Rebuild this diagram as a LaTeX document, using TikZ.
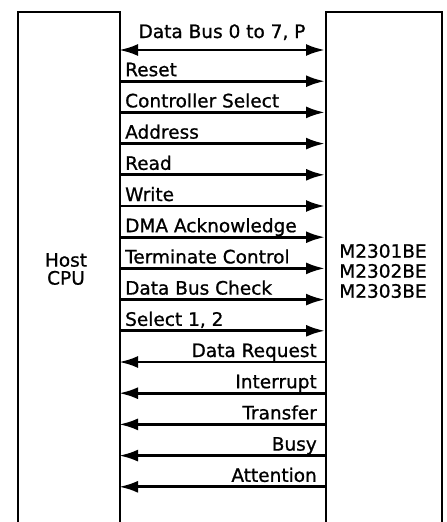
\documentclass[tikz,border=0pt]{standalone}
\usepackage{fontspec}
\setmainfont{DejaVu Sans}
\newfontfamily\sigfont{DejaVu Sans}[FakeBold=0.9]
\usetikzlibrary{arrows.meta}
\tikzset{
  unitbox/.style={draw, line width=1.6pt, minimum height=560pt, inner sep=0pt, anchor=north west},
  sig/.style={line width=2.8pt, -{Latex[length=19pt,width=12pt]}},
  bisig/.style={line width=2.8pt, {Latex[length=19pt,width=12pt]}-{Latex[length=19pt,width=12pt]}},
  lbl/.style={inner sep=0pt, font=\sigfont\fontsize{18.5}{21}\selectfont}
}

\begin{document}
\begin{tikzpicture}[x=1pt, y=-1pt]
			%%%%% START %%%%%
			\useasboundingbox (0, 0) rectangle (447, 522);
			
			\node[unitbox, minimum width=102pt] (cpu) at (17, 11) {};
			\node[unitbox, minimum width=116pt] (ctl) at (325, 11) {};
			
			\node[lbl, align=center] (cpulbl) at (66, 269) {Host\\[-3pt]CPU};
			\node[lbl, align=center] (ctllbl) at (383, 271) {M2301BE\\[-1pt]M2302BE\\[-1pt]M2303BE};
			
			\foreach \i in {0,...,14} {
				\coordinate (h\i) at (119, 50+31.2*\i);
				\coordinate (d\i) at (325, 50+31.2*\i);
			}
			
			\draw[bisig] (h0) -- (d0);
			\node[lbl, anchor=base] (l0) at (222, 38) {Data Bus 0 to 7, P};
			
			\draw[sig] (h1) -- (d1);
			\node[lbl, anchor=base west] (l1) at (125, 76.2) {Reset};
			\draw[sig] (h2) -- (d2);
			\node[lbl, anchor=base west] (l2) at (125, 107.4) {Controller Select};
			\draw[sig] (h3) -- (d3);
			\node[lbl, anchor=base west] (l3) at (125, 138.6) {Address};
			\draw[sig] (h4) -- (d4);
			\node[lbl, anchor=base west] (l4) at (125, 169.8) {Read};
			\draw[sig] (h5) -- (d5);
			\node[lbl, anchor=base west] (l5) at (125, 201) {Write};
			\draw[sig] (h6) -- (d6);
			\node[lbl, anchor=base west] (l6) at (125, 232.2) {DMA Acknowledge};
			\draw[sig] (h7) -- (d7);
			\node[lbl, anchor=base west] (l7) at (125, 263.4) {Terminate Control};
			\draw[sig] (h8) -- (d8);
			\node[lbl, anchor=base west] (l8) at (125, 294.6) {Data Bus Check};
			\draw[sig] (h9) -- (d9);
			\node[lbl, anchor=base west] (l9) at (125, 325.8) {Select 1, 2};
			
			\draw[sig] (d10) -- (h10);
			\node[lbl, anchor=base east] (l10) at (317, 357) {Data Request};
			\draw[sig] (d11) -- (h11);
			\node[lbl, anchor=base east] (l11) at (317, 388.2) {Interrupt};
			\draw[sig] (d12) -- (h12);
			\node[lbl, anchor=base east] (l12) at (317, 419.4) {Transfer};
			\draw[sig] (d13) -- (h13);
			\node[lbl, anchor=base east] (l13) at (317, 450.6) {Busy};
			\draw[sig] (d14) -- (h14);
			\node[lbl, anchor=base east] (l14) at (317, 481.8) {Attention};
			
			%%%%% END %%%%%
\end{tikzpicture}
\end{document}
